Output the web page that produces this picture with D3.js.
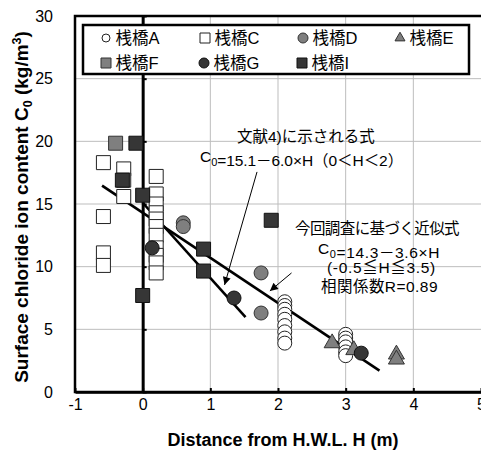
<!DOCTYPE html>
<html><head><meta charset="utf-8">
<script src="https://cdn.jsdelivr.net/npm/d3@7"></script>
<style>body{margin:0;background:#fff}svg{display:block}</style>
</head><body>
<svg id="c" width="481" height="452"></svg>
<script>
// ---- data ----
const xTicks = [-1, 0, 1, 2, 3, 4, 5];
const yTicks = [0, 5, 10, 15, 20, 25, 30];
const seriesNames = ["桟橋A", "桟橋C", "桟橋D", "桟橋E", "桟橋F", "桟橋G", "桟橋I"];
const bridgeA = [[2.1,7.2],[2.1,6.9],[2.1,6.6],[2.1,6.2],[2.1,5.8],[2.1,5.3],[2.1,4.8],[2.1,4.3],[2.1,3.9],
                 [3.0,4.6],[3.0,4.3],[3.0,4.0],[3.0,3.6],[3.0,3.2],[3.0,2.9]];
const bridgeC = [[-0.58,18.3],[-0.58,14.0],[-0.58,11.1],[-0.58,10.1],
                 [-0.28,17.8],[-0.28,16.9],[-0.28,15.6],
                 [0.2,17.2],[0.2,15.8],[0.2,15.0],[0.2,14.3],[0.2,13.8],[0.2,13.2],[0.2,12.5],[0.2,11.5],[0.2,10.9],[0.2,10.3],[0.2,9.5]];
const bridgeD = [[0.6,13.5],[0.6,13.2],[1.75,9.5],[1.75,6.3]];
const bridgeE = [[2.8,3.9],[3.12,3.35],[3.75,3.0],[3.75,2.6]];
const bridgeF = [[-0.4,19.85]];
const bridgeG = [[0.14,11.5],[1.35,7.5],[3.23,3.1]];
const bridgeI = [[-0.1,19.85],[-0.3,16.9],[0.0,15.7],[0.0,7.7],[0.9,11.4],[0.9,9.65],[1.9,13.7]];
// fitted line from this survey: C0 = 14.3 - 3.6H  and reference line C0 = 15.1 - 6.0H
const fitThis = {a: 14.3, b: -3.6, from: -0.6, to: 3.5};
const fitRef  = {a: 15.1, b: -6.0, from: 0.0, to: 1.52};

// ---- layout ----
const svg = d3.select("#c");
const x = d3.scaleLinear().domain([-1, 5]).range([75, 481]);
const y = d3.scaleLinear().domain([0, 30]).range([392, 16]);
const NUM = "'Liberation Sans', Arial, sans-serif";
const JP = "'Liberation Sans', 'Noto Sans CJK JP', sans-serif";

// gridlines
svg.append("g").selectAll("line").data(yTicks.filter(d => d > 0 && d < 30)).join("line")
  .attr("x1", x(-1)).attr("x2", x(5)).attr("y1", d => y(d)).attr("y2", d => y(d))
  .attr("stroke", "#bdbdbd").attr("stroke-width", 1);
svg.append("g").selectAll("line").data(xTicks.filter(d => d > 0 && d < 5)).join("line")
  .attr("y1", y(0)).attr("y2", y(30)).attr("x1", d => x(d)).attr("x2", d => x(d))
  .attr("stroke", "#bdbdbd").attr("stroke-width", 1);

// plot border
svg.append("rect").attr("x", x(-1)).attr("y", y(30)).attr("width", x(5) - x(-1) + 2).attr("height", y(0) - y(30))
  .attr("fill", "none").attr("stroke", "#000").attr("stroke-width", 2.5);

// x axis (ticks inward)
const xa = svg.append("g").attr("transform", `translate(0,${y(0)})`)
  .call(d3.axisBottom(x).tickValues(xTicks).tickSizeInner(-4).tickSizeOuter(0).tickPadding(7).tickFormat(d => String(d)));
xa.select(".domain").attr("stroke", "#000").attr("stroke-width", 2.5);
xa.selectAll(".tick line").attr("stroke", "#000").attr("stroke-width", 2);
xa.selectAll("text").attr("font-family", NUM).attr("font-size", 16).attr("fill", "#000");

// y tick labels (left side)
const ya = svg.append("g").attr("transform", `translate(${x(-1)},0)`)
  .call(d3.axisLeft(y).tickValues(yTicks).tickSize(0).tickPadding(22).tickFormat(d => String(d)));
ya.select(".domain").remove();
ya.selectAll("text").attr("font-family", NUM).attr("font-size", 16).attr("fill", "#000");

// vertical axis at H = 0
const y0a = svg.append("g").attr("transform", `translate(${x(0)},0)`)
  .call(d3.axisRight(y).tickValues(yTicks).tickSizeInner(4).tickSizeOuter(0).tickFormat(""));
y0a.select(".domain").attr("stroke", "#000").attr("stroke-width", 3);
y0a.selectAll(".tick line").attr("stroke", "#000").attr("stroke-width", 2);

// regression lines
const line = d3.line().x(d => x(d[0])).y(d => y(d[1]));
[fitThis, fitRef].forEach(f => {
  svg.append("path").attr("d", line([[f.from, f.a + f.b * f.from], [f.to, f.a + f.b * f.to]]))
    .attr("stroke", "#000").attr("stroke-width", 2.6).attr("fill", "none");
});

// markers
const styles = {
  A: {shape: "circle", fill: "#fff", stroke: "#222"},
  C: {shape: "square", fill: "#fff", stroke: "#222"},
  D: {shape: "circle", fill: "#7f7f7f", stroke: "#333"},
  E: {shape: "triangle", fill: "#7f7f7f", stroke: "#333"},
  F: {shape: "square", fill: "#7f7f7f", stroke: "#333"},
  G: {shape: "circle", fill: "#363636", stroke: "#111"},
  I: {shape: "square", fill: "#363636", stroke: "#111"}
};
function shapePath(shape, s) {
  if (shape === "circle") return d3.symbol(d3.symbolCircle, Math.PI * s * s / 4)();
  if (shape === "square") return d3.symbol(d3.symbolSquare, s * s)();
  return d3.symbol(d3.symbolTriangle, s * s * 0.433)();
}
const seriesData = {A: bridgeA, C: bridgeC, D: bridgeD, E: bridgeE, F: bridgeF, G: bridgeG, I: bridgeI};
Object.keys(seriesData).forEach(k => {
  const st = styles[k];
  const sz = st.shape === "triangle" ? 16 : 14;
  svg.append("g").selectAll("path").data(seriesData[k]).join("path")
    .attr("d", shapePath(st.shape, sz))
    .attr("transform", d => `translate(${x(d[0])},${y(d[1])})`)
    .attr("fill", st.fill).attr("stroke", st.stroke).attr("stroke-width", 1);
});

// legend
svg.append("rect").attr("x", 83).attr("y", 25).attr("width", 386).attr("height", 49)
  .attr("fill", "#fff").attr("stroke", "#000").attr("stroke-width", 2.5);
const legPos = [[106, 38], [205, 38], [303, 38], [400, 38], [106, 63], [204, 63], [302, 63]];
Object.keys(seriesData).forEach((k, i) => {
  const st = styles[k];
  const [lx, ly] = legPos[i];
  const sz = st.shape === "circle" ? (st.fill === "#fff" ? 8 : 10) : 10;
  svg.append("path").attr("d", shapePath(st.shape, sz)).attr("transform", `translate(${lx},${ly})`)
    .attr("fill", st.fill).attr("stroke", st.stroke).attr("stroke-width", 1);
  svg.append("text").attr("x", lx + 9.5).attr("y", ly + 6).attr("font-family", JP).attr("font-size", 16.5)
    .attr("fill", "#000").text(seriesNames[i]);
});

// annotation texts
function addText(tx, ty, parts, len) {
  const t = svg.append("text").attr("x", tx).attr("y", ty).attr("font-family", JP).attr("font-size", 15.5).attr("fill", "#000");
  let n = 0;
  parts.forEach(p => {
    if (typeof p === "string") { t.append("tspan").text(p); n += p.length; }
    else {
      t.append("tspan").attr("font-size", 11).attr("dy", 4).text(p.sub);
      t.append("tspan").attr("dy", -4).text("");
      n += p.sub.length;
    }
  });
  if (len) {
    const L = t.node().getComputedTextLength();
    const ls = (len - L) / n;
    t.attr("letter-spacing", ls.toFixed(2));
  }
}
addText(237, 141.5, ["文献4)に示される式"]);
addText(200, 162, ["C", {sub: "0"}, "=15.1－6.0×H（0＜H＜2）"], 203);
addText(295, 233.5, ["今回調査に基づく近似式"], 164);
addText(318, 253.5, ["C", {sub: "0"}, "=14.3－3.6×H"], 122);
addText(327, 272.5, ["(-0.5≦H≦3.5)"], 109);
addText(321, 291.5, ["相関係数R=0.89"], 117);

// arrows
const defs = svg.append("defs");
defs.append("marker").attr("id", "ah").attr("viewBox", "0 0 10 10").attr("refX", 10).attr("refY", 5)
  .attr("markerWidth", 10).attr("markerHeight", 8).attr("markerUnits", "userSpaceOnUse").attr("orient", "auto")
  .append("path").attr("d", "M0,0L10,5L0,10Z").attr("fill", "#000");
const arrows = [[[1.69, 17.56], [1.21, 8.54]], [[2.2, 9.5], [1.88, 8.06]]];
arrows.forEach(a => {
  svg.append("path").attr("d", line(a)).attr("stroke", "#000").attr("stroke-width", 1)
    .attr("fill", "none").attr("marker-end", "url(#ah)");
});

// axis titles
svg.append("text").attr("x", 283).attr("y", 446).attr("text-anchor", "middle")
  .attr("font-family", NUM).attr("font-weight", "bold").attr("font-size", 18).text("Distance from H.W.L. H (m)");
const yt = svg.append("text").attr("transform", "translate(28,207) rotate(-90)").attr("text-anchor", "middle")
  .attr("font-family", NUM).attr("font-weight", "bold").attr("font-size", 19);
yt.append("tspan").text("Surface chloride ion content C");
yt.append("tspan").attr("font-size", 12.5).attr("dy", 4).text("0");
yt.append("tspan").attr("dy", -4).text(" (kg/m");
yt.append("tspan").attr("font-size", 12.5).attr("dy", -7).text("3");
yt.append("tspan").attr("dy", 7).text(")");
</script>
</body></html>
